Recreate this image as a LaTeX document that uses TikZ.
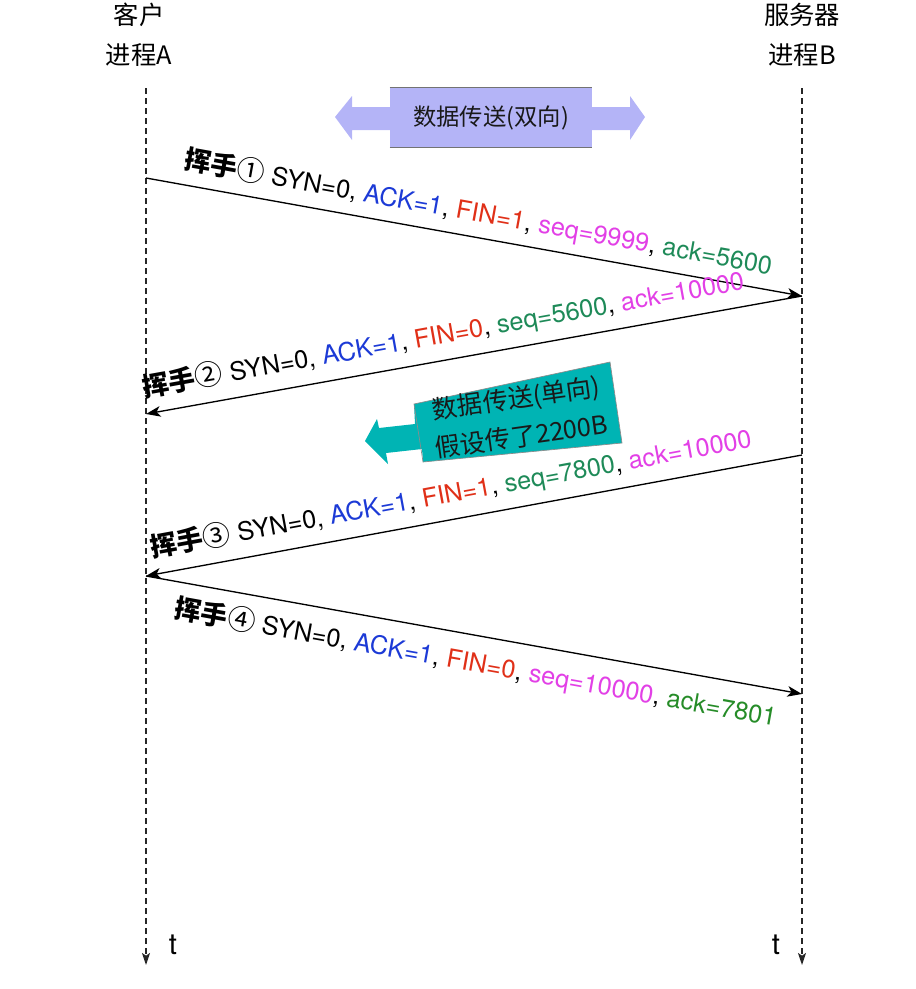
\documentclass[tikz,border=0pt]{standalone}
\usepackage{fontspec}
\setmainfont{TeX Gyre Heros}
\newfontfamily\cjk{Noto Sans CJK SC}
\usetikzlibrary{arrows.meta}
\definecolor{ackblue}{RGB}{28,58,214}
\definecolor{finred}{RGB}{224,48,24}
\definecolor{magen}{RGB}{226,64,230}
\definecolor{tgreen}{RGB}{30,138,88}
\definecolor{pgreen}{RGB}{38,140,40}
\definecolor{purp}{RGB}{180,180,247}
\definecolor{teal2}{RGB}{0,180,180}
\begin{document}
\begin{tikzpicture}[x=0.75pt,y=-0.75pt,
  lifeline/.style={draw=black!85, line width=1.1pt, dash pattern=on 4.5pt off 3pt, -{Stealth[length=9pt,width=6pt,inset=2pt]}},
  msg/.style={draw=black, line width=1pt, -{Stealth[length=11pt,width=8pt,inset=3pt]}},
  msgback/.style={draw=black, line width=1pt, {Stealth[length=11pt,width=8pt,inset=3pt]}-},
  hdr/.style={font=\cjk\fontsize{19}{30}\selectfont, align=center, inner sep=0pt},
  lbl/.style={sloped, inner sep=0pt, font=\fontsize{19}{22}\selectfont},
  boxtxt/.style={font=\cjk\fontsize{17.5}{28.5}\selectfont, align=center, inner sep=0pt, text=black!90},
  tlab/.style={font=\fontsize{22}{24}\selectfont, inner sep=0pt}]
\useasboundingbox (0,0) rectangle (915,989);
\newcommand{\hs}[1]{{\cjk\bfseries\fontsize{20}{22}\selectfont 挥手}{\cjk\fontsize{21}{22}\selectfont #1}}
% headers
\node[hdr] (hA) at (139,35) {客户\\进程A};
\node[hdr] (hB) at (802,35) {服务器\\进程B};
% lifelines
\coordinate (Atop) at (146,88);
\coordinate (Abot) at (146,965);
\coordinate (Btop) at (802,88);
\coordinate (Bbot) at (802,965);
\draw[lifeline] (Atop) -- (Abot);
\draw[lifeline] (Btop) -- (Bbot);
\node[tlab] (tA) at (173,945) {t};
\node[tlab] (tB) at (776,945) {t};
% bidirectional data arrow
\fill[purp] (335,117) -- (352,96) -- (352,107) -- (392,107) -- (392,130) -- (352,130) -- (352,140) -- cycle;
\fill[purp] (645,117) -- (630,96) -- (630,107) -- (590,107) -- (590,130) -- (630,130) -- (630,140) -- cycle;
\node[fill=purp, minimum width=151.5pt, minimum height=44.25pt, inner sep=0pt] (bidir) at (491,117.5) {};
\draw[black!55, line width=0.8pt] (bidir.north west) -- (bidir.north east);
\draw[black!55, line width=0.8pt] (bidir.south west) -- (bidir.south east);
\node[boxtxt] (bidirtxt) at (bidir.center) {数据传送(双向)};
% unidirectional data arrow
\fill[teal2] (365,441) -- (377,419) -- (379,428) -- (415,424) -- (414,404) -- (610,362) -- (622,443) -- (423,462) -- (422,449) -- (386,453) -- (388,464) -- cycle;
\draw[black!45, line width=0.5pt] (414,404) -- (610,362) -- (622,443) -- (423,462) -- cycle;
\node[boxtxt, rotate=8, font=\cjk\fontsize{19}{29}\selectfont] (uni) at (519,417) {数据传送(单向)\\假设传了2200B};
% message endpoints
\coordinate (A1) at (146,178);
\coordinate (B1) at (802,296);
\coordinate (A2) at (146,414);
\coordinate (B3) at (802,455);
\coordinate (A3) at (146,576);
\coordinate (B4) at (802,694);
% handshake 1
\draw[msg] (A1) -- node[lbl, pos=0.5, above=7pt] (L1) {\hs{①} SYN=0, \textcolor{ackblue}{ACK=1}, \textcolor{finred}{FIN=1}, \textcolor{magen}{seq=9999}, \textcolor{tgreen}{ack=5600}} (B1);
% handshake 2
\draw[msgback] (A2) -- node[lbl, pos=0.46, above=8pt] (L2) {\hs{②} SYN=0, \textcolor{ackblue}{ACK=1}, \textcolor{finred}{FIN=0}, \textcolor{tgreen}{seq=5600}, \textcolor{magen}{ack=10000}} (B1);
% handshake 3
\draw[msgback] (A3) -- node[lbl, pos=0.472, above=8pt] (L3) {\hs{③} SYN=0, \textcolor{ackblue}{ACK=1}, \textcolor{finred}{FIN=1}, \textcolor{tgreen}{seq=7800}, \textcolor{magen}{ack=10000}} (B3);
% handshake 4
\draw[msg] (A3) -- node[lbl, pos=0.51, below=9pt] (L4) {\hs{④} SYN=0, \textcolor{ackblue}{ACK=1}, \textcolor{finred}{FIN=0}, \textcolor{magen}{seq=10000}, \textcolor{pgreen}{ack=7801}} (B4);
\end{tikzpicture}
\end{document}
